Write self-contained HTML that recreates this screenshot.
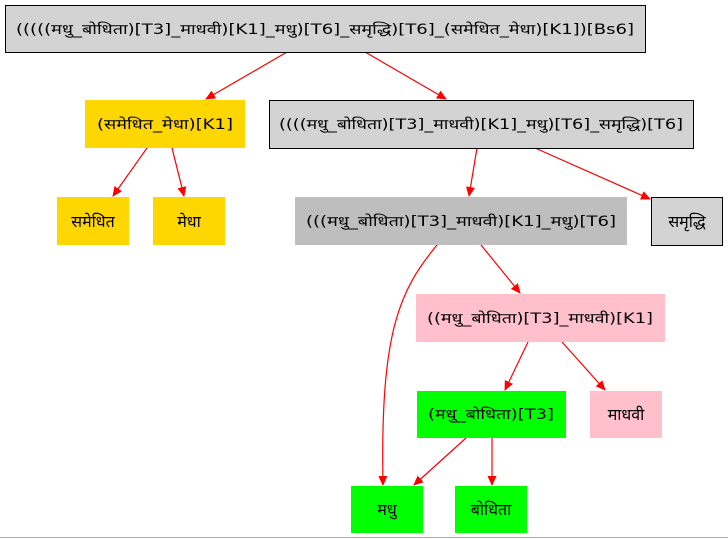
<!DOCTYPE html>
<html><head><meta charset="utf-8"><style>
html,body{margin:0;padding:0;background:#fff;width:728px;height:539px;overflow:hidden}
text{font-family:"DejaVu Sans","Liberation Sans","Noto Sans CJK SC",sans-serif;font-size:14px;fill:#000}
text.s{font-size:16px}
</style></head><body>
<svg width="728" height="539" viewBox="0 0 728 539" xmlns="http://www.w3.org/2000/svg">
<defs><marker id="a" markerWidth="10" markerHeight="10" refX="9" refY="5" orient="auto" markerUnits="userSpaceOnUse"><path d="M0,0.5 L10,5 L0,9.5 z" fill="#f00"/></marker></defs>
<g stroke="#f00" stroke-width="1.2" fill="none" marker-end="url(#a)">
<line x1="287" y1="52" x2="206" y2="99"/>
<line x1="365" y1="52" x2="446" y2="99"/>
<line x1="147" y1="148" x2="113" y2="196"/>
<line x1="172" y1="148" x2="184" y2="196"/>
<line x1="477" y1="148" x2="469" y2="196"/>
<line x1="535" y1="148" x2="650" y2="199"/>
<path d="M437,245 C400,290 380,330 383,485"/>
<line x1="481" y1="245" x2="520" y2="293"/>
<line x1="528" y1="342" x2="505" y2="390"/>
<line x1="562" y1="342" x2="605" y2="390"/>
<line x1="466" y1="438" x2="414" y2="485"/>
<line x1="492" y1="438" x2="492" y2="485"/>
</g>
<rect x="5.5" y="5.5" width="640" height="47" fill="#d3d3d3" stroke="#000"/>
<text x="325" y="34" text-anchor="middle" textLength="618" lengthAdjust="spacingAndGlyphs">(((((मधु_बोधिता)[T3]_माधवी)[K1]_मधु)[T6]_समृद्धि)[T6]_(समेधित_मेधा)[K1])[Bs6]</text>
<rect x="85" y="100" width="160" height="48" fill="#ffd700"/>
<text x="165" y="129" text-anchor="middle" textLength="136" lengthAdjust="spacingAndGlyphs">(समेधित_मेधा)[K1]</text>
<rect x="269.5" y="100.5" width="424" height="48" fill="#d3d3d3" stroke="#000"/>
<text x="481" y="129" text-anchor="middle" textLength="404" lengthAdjust="spacingAndGlyphs">((((मधु_बोधिता)[T3]_माधवी)[K1]_मधु)[T6]_समृद्धि)[T6]</text>
<rect x="57" y="197" width="72" height="48" fill="#ffd700"/>
<text class="s" x="93" y="227" text-anchor="middle">समेधित</text>
<rect x="153" y="197" width="72" height="48" fill="#ffd700"/>
<text class="s" x="189" y="227" text-anchor="middle">मेधा</text>
<rect x="295" y="197" width="332" height="48" fill="#bebebe"/>
<text x="461" y="226" text-anchor="middle" textLength="310" lengthAdjust="spacingAndGlyphs">(((मधु_बोधिता)[T3]_माधवी)[K1]_मधु)[T6]</text>
<rect x="651.5" y="197.5" width="71" height="48" fill="#d3d3d3" stroke="#000"/>
<text class="s" x="687" y="227" text-anchor="middle">समृद्धि</text>
<rect x="416" y="294" width="249" height="48" fill="#ffc0cb"/>
<text x="540" y="323" text-anchor="middle" textLength="226" lengthAdjust="spacingAndGlyphs">((मधु_बोधिता)[T3]_माधवी)[K1]</text>
<rect x="417" y="391" width="149" height="47" fill="#00ff00"/>
<text x="491" y="419" text-anchor="middle" textLength="126" lengthAdjust="spacingAndGlyphs">(मधु_बोधिता)[T3]</text>
<rect x="590" y="391" width="72" height="47" fill="#ffc0cb"/>
<text class="s" x="626" y="420" text-anchor="middle">माधवी</text>
<rect x="351" y="486" width="72" height="47" fill="#00ff00"/>
<text class="s" x="387" y="515" text-anchor="middle">मधु</text>
<rect x="455" y="486" width="72" height="47" fill="#00ff00"/>
<text class="s" x="491" y="515" text-anchor="middle">बोधिता</text>
<line x1="0" y1="537.5" x2="728" y2="537.5" stroke="#aaa" stroke-width="1"/>
</svg>
</body></html>
